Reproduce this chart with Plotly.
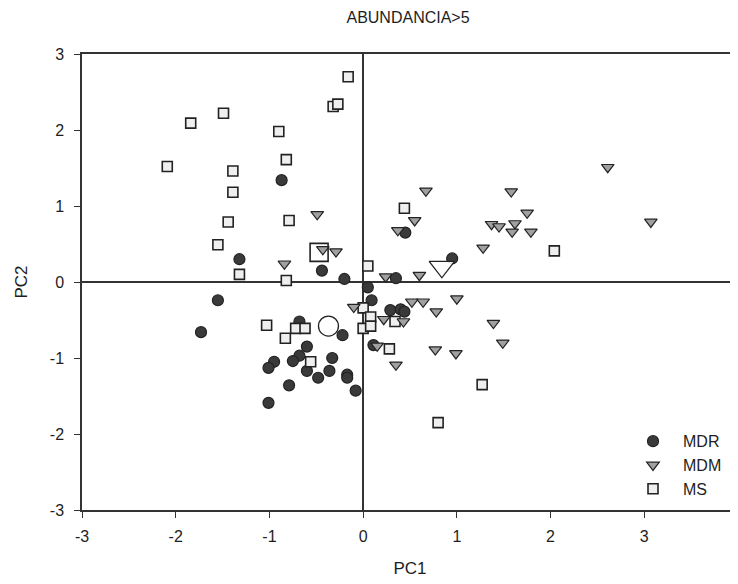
import plotly.graph_objects as go

# MDR (dark circles)
mdr_x = [-0.87, -1.32, -0.44, -0.20, 0.45, 0.95, 0.35, 0.05, -1.55, -1.73, -0.68, -0.22, -0.60,
         -0.68, -0.75, -0.95, -1.01, -0.33, -0.60, -0.36, -0.48, -0.17, -0.17, -0.79, -0.08,
         -1.01, 0.09, 0.29, 0.40, 0.44, 0.11]
mdr_y = [1.34, 0.30, 0.15, 0.04, 0.65, 0.31, 0.05, -0.07, -0.24, -0.66, -0.52, -0.70, -0.85,
         -0.97, -1.04, -1.05, -1.13, -1.00, -1.17, -1.17, -1.26, -1.22, -1.26, -1.36, -1.43,
         -1.59, -0.24, -0.37, -0.36, -0.39, -0.83]

# MDM (grey down-triangles)
mdm_x = [-0.49, -0.43, -0.29, -0.84, 0.67, 1.58, 2.61, 3.07, 1.75, 0.55, 0.37, 1.37, 1.45,
         1.62, 1.59, 1.79, 1.28, 0.24, 0.60, 0.52, 0.64, 0.78, 1.00, 0.22, 0.43, 1.39, 1.49,
         0.15, 0.77, 0.99, 0.35, -0.10]
mdm_y = [0.89, 0.43, 0.40, 0.24, 1.20, 1.19, 1.51, 0.79, 0.91, 0.81, 0.68, 0.76, 0.73,
         0.77, 0.66, 0.66, 0.45, 0.07, 0.09, -0.26, -0.26, -0.39, -0.22, -0.49, -0.52, -0.54,
         -0.80, -0.84, -0.89, -0.94, -1.09, -0.33]

# MS (light squares)
ms_x = [-0.16, -0.32, -0.27, -1.49, -1.84, -0.90, -0.82, -2.09, -1.39, -1.39, -1.44, -0.79,
        -1.55, -1.32, -0.82, 0.05, 0.44, 2.04, -1.03, -0.72, -0.62, -0.83, -0.56, 0.00, 0.00,
        0.08, 0.08, 0.34, 0.28, 1.27, 0.80]
ms_y = [2.70, 2.31, 2.34, 2.22, 2.09, 1.98, 1.61, 1.52, 1.46, 1.18, 0.79, 0.81, 0.49, 0.10,
        0.02, 0.21, 0.97, 0.41, -0.57, -0.61, -0.61, -0.74, -1.05, -0.34, -0.61, -0.46, -0.58,
        -0.52, -0.88, -1.35, -1.85]

# group centroids (large hollow markers)
cent_mdr = (-0.37, -0.58)
cent_mdm = (0.84, 0.20)
cent_ms = (-0.47, 0.39)

x_ticks = [-3, -2, -1, 0, 1, 2, 3, 4]
x_labels = ["-3", "-2", "-1", "0", "1", "2", "3", "4"]
y_ticks = [-3, -2, -1, 0, 1, 2, 3]
y_labels = ["-3", "-2", "-1", "0", "1", "2", "3"]

FONT = "Liberation Sans, Arial, sans-serif"
EDGE = "#222222"
TXT = "#1e1e1e"

fig = go.Figure()
fig.add_trace(go.Scatter(x=mdr_x, y=mdr_y, mode="markers", name="MDR", legendrank=1,
                         marker=dict(symbol="circle", size=11, color="#3a3a3a",
                                     line=dict(color=EDGE, width=1.2))))
fig.add_trace(go.Scatter(x=ms_x, y=ms_y, mode="markers", name="MS", legendrank=3,
                         marker=dict(symbol="square", size=10, color="#efefef",
                                     line=dict(color=EDGE, width=1.6))))
fig.add_trace(go.Scatter(x=mdm_x, y=mdm_y, mode="markers", name="MDM", legendrank=2,
                         marker=dict(symbol="triangle-down", size=11, color="#a0a0a0",
                                     line=dict(color=EDGE, width=1.2))))
fig.add_trace(go.Scatter(x=[cent_mdr[0]], y=[cent_mdr[1]], mode="markers", showlegend=False,
                         marker=dict(symbol="circle", size=20, color="rgba(255,255,255,0.9)",
                                     line=dict(color=EDGE, width=1.3))))
fig.add_trace(go.Scatter(x=[cent_mdm[0]], y=[cent_mdm[1]], mode="markers", showlegend=False,
                         marker=dict(symbol="triangle-down", size=22, color="rgba(255,255,255,0.9)",
                                     line=dict(color=EDGE, width=1.3))))
fig.add_trace(go.Scatter(x=[cent_ms[0]], y=[cent_ms[1]], mode="markers", showlegend=False,
                         marker=dict(symbol="square", size=18, color="rgba(0,0,0,0)",
                                     line=dict(color=EDGE, width=1.6))))

axis_common = dict(showgrid=False, showline=True, linecolor="#333333", linewidth=1.5,
                   mirror=True, ticks="outside", ticklen=6, tickwidth=1.2, tickcolor="#333333",
                   zeroline=True, zerolinecolor="#333333", zerolinewidth=1.5,
                   tickfont=dict(family=FONT, size=16, color=TXT),
                   title_font=dict(family=FONT, size=17, color=TXT))

fig.update_xaxes(range=[-3, 4], tickvals=x_ticks, ticktext=x_labels, title_text="PC1",
                 title_standoff=18, ticklabelstandoff=5, **axis_common)
fig.update_yaxes(range=[-3, 3], tickvals=y_ticks, ticktext=y_labels, title_text="PC2",
                 title_standoff=18, ticklabelstandoff=7, **axis_common)

fig.update_layout(
    width=730, height=576,
    margin=dict(l=74, r=0, t=46, b=74, autoexpand=False),
    paper_bgcolor="white", plot_bgcolor="white",
    title=dict(text="ABUNDANCIA>5", x=0.548, xanchor="center", y=0.983, yanchor="middle",
               font=dict(family=FONT, size=16, color=TXT)),
    font=dict(family=FONT, color=TXT),
    legend=dict(x=0.8247, xanchor="left", y=0.188, yanchor="top", bgcolor="rgba(0,0,0,0)",
                itemwidth=50, font=dict(family=FONT, size=16, color=TXT), tracegroupgap=0),
    showlegend=True,
)

fig.write_html("out.html")
